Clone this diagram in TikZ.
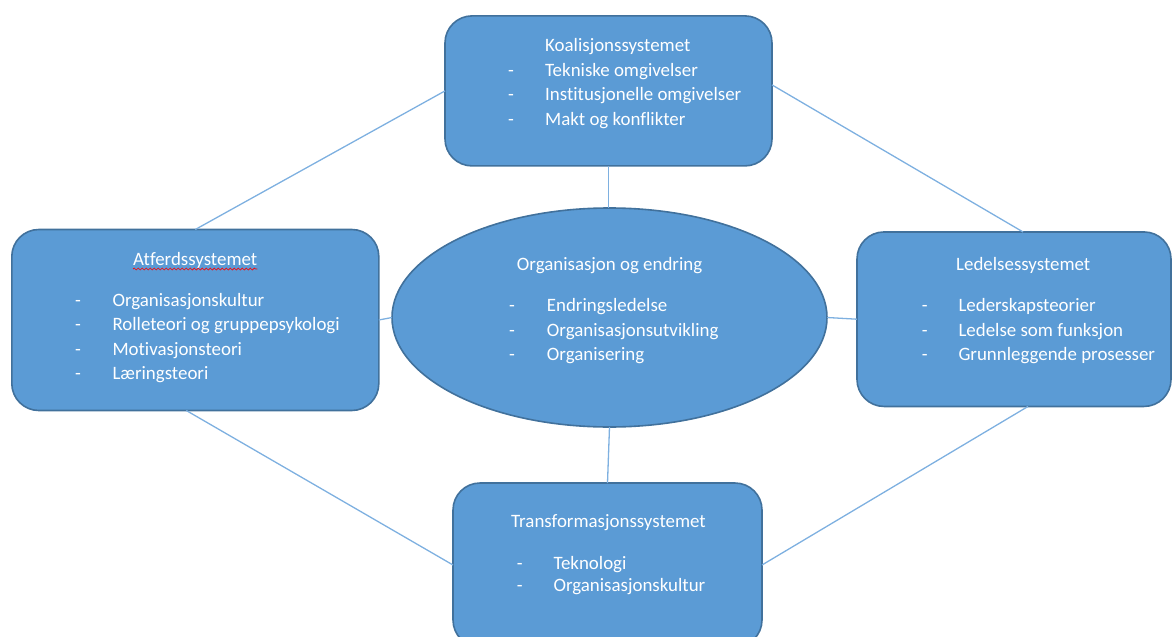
\documentclass[tikz,border=0pt]{standalone}
\usepackage{fontspec}
\setmainfont{Carlito}[Ligatures=NoCommon]
\usetikzlibrary{shapes.geometric,decorations.pathmorphing}
\definecolor{boxfill}{HTML}{5B9BD5}
\definecolor{boxedge}{HTML}{41719C}
\definecolor{linkline}{HTML}{7EB0E0}
\begin{document}
\begin{tikzpicture}[x=1pt,y=-1pt,
  sysbox/.style={draw=boxedge, fill=boxfill, line width=1.6pt, rounded corners=27pt,
    inner sep=0pt, outer sep=0pt},
  hub/.style={ellipse, draw=boxedge, fill=boxfill, line width=1.6pt, inner sep=0pt,
    outer sep=0pt, minimum width=435pt, minimum height=219pt},
  link/.style={draw=linkline, line width=1.3pt},
  txt/.style={anchor=base west, text=white, inner sep=0pt,
    font=\fontsize{18.9}{24.5}\selectfont},
  spell/.style={draw=red, line width=0.7pt, decorate,
    decoration={snake, segment length=4pt, amplitude=1pt}},
]
\path[use as bounding box] (0,0) rectangle (1173,637);
\clip (0,0) rectangle (1173,637);

% the five shapes
\node[sysbox, minimum width=327pt, minimum height=150pt] (koal) at (608.5,90.9) {};
\node[sysbox, minimum width=367pt, minimum height=181pt] (atferd) at (195.3,320) {};
\node[sysbox, minimum width=314pt, minimum height=174.5pt] (ledelse) at (1014,319.2) {};
\node[sysbox, minimum width=309pt, minimum height=164pt] (transf) at (607.5,565) {};
\node[hub] (org) at (609.5,317.5) {};

% connectors
\draw[link] (koal.south) -- (koal.south |- org.north);
\draw[link] (org.south) -- (transf.north);
\draw[link] (atferd.east) -- (org.west);
\draw[link] (org.east) -- (ledelse.west);
\draw[link] (koal.west) -- (atferd.north);
\draw[link] ([yshift=6pt]koal.east) -- ([xshift=9pt]ledelse.north);
\draw[link] ([xshift=-9pt]atferd.south) -- (transf.west);
\draw[link] ([xshift=14pt]ledelse.south) -- (transf.east);

% Koalisjonssystemet
\node[txt] (k0) at (545,51.7) {Koalisjonssystemet};
\node[txt] (kd1) at (508,76) {-};
\node[txt] (k1) at (545,76) {Tekniske omgivelser};
\node[txt] (kd2) at (508,100.7) {-};
\node[txt] (k2) at (545,100.7) {Institusjonelle omgivelser};
\node[txt] (kd3) at (508,125) {-};
\node[txt] (k3) at (545,125) {Makt og konflikter};

% Atferdssystemet
\node[txt] (a0) at (133,265) {Atferdssystemet};
\draw[spell] ([yshift=-4pt]a0.base west) -- ([yshift=-4pt]a0.base east);
\node[txt] (ad1) at (75,306) {-};
\node[txt] (a1) at (112.3,306) {Organisasjonskultur};
\node[txt] (ad2) at (75,330.7) {-};
\node[txt] (a2) at (112.3,330.7) {Rolleteori og gruppepsykologi};
\node[txt] (ad3) at (75,355) {-};
\node[txt] (a3) at (112.3,355) {Motivasjonsteori};
\node[txt] (ad4) at (75,379.3) {-};
\node[txt] (a4) at (112.3,379.3) {Læringsteori};

% Organisasjon og endring
\node[txt] (o0) at (516.7,270) {Organisasjon og endring};
\node[txt] (od1) at (509,311.7) {-};
\node[txt] (o1) at (546.7,311.7) {Endringsledelse};
\node[txt] (od2) at (509,336.7) {-};
\node[txt] (o2) at (546.7,336.7) {Organisasjonsutvikling};
\node[txt] (od3) at (509,360.7) {-};
\node[txt] (o3) at (546.7,360.7) {Organisering};

% Ledelsessystemet
\node[txt] (l0) at (956,270) {Ledelsessystemet};
\node[txt] (ld1) at (921.7,311.7) {-};
\node[txt] (l1) at (958.3,311.7) {Lederskapsteorier};
\node[txt] (ld2) at (921.7,336) {-};
\node[txt] (l2) at (958.3,336) {Ledelse som funksjon};
\node[txt] (ld3) at (921.7,360) {-};
\node[txt] (l3) at (958.3,360) {Grunnleggende prosesser};

% Transformasjonssystemet
\node[txt] (t0) at (511,527.3) {Transformasjonssystemet};
\node[txt] (td1) at (516.7,569.3) {-};
\node[txt] (t1) at (553.3,569.3) {Teknologi};
\node[txt] (td2) at (516.7,591.7) {-};
\node[txt] (t2) at (553.3,591.7) {Organisasjonskultur};
\end{tikzpicture}
\end{document}
